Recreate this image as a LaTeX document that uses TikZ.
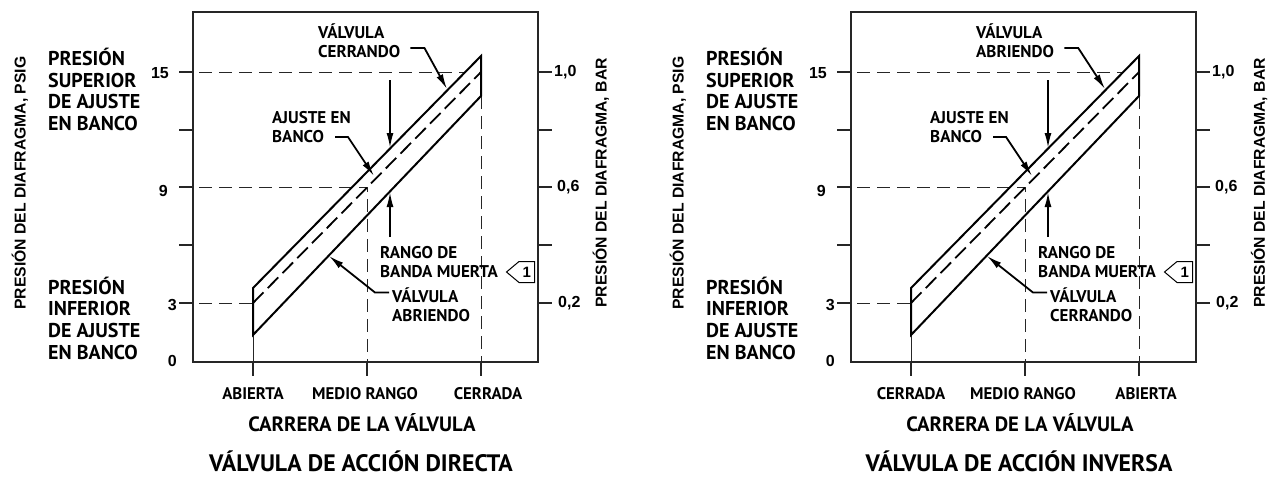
\documentclass[tikz,border=0pt]{standalone}
\usepackage{fontspec}
\setmainfont{PT Sans}
\newfontfamily\numfont{Liberation Sans}
\usetikzlibrary{arrows.meta, positioning, shapes.symbols}
\tikzstyle{plotframe} = [draw=black!85, line width=1.3pt]
\tikzstyle{tickmark} = [draw=black!85, line width=1.2pt]
\tikzstyle{guide} = [draw=black!85, line width=1pt, dash pattern=on 13pt off 7pt]
\tikzstyle{band} = [draw, line width=2pt, line join=miter]
\tikzstyle{setline} = [draw, line width=1.8pt, dash pattern=on 15pt off 6pt]
\tikzstyle{leader} = [draw, line width=1.8pt, -{Latex[length=15pt,width=7pt]}]
\tikzstyle{note} = [font=\bfseries\fontsize{17}{19}\selectfont, align=left, inner sep=0pt, anchor=west]
\tikzstyle{sidelabel} = [font=\bfseries\fontsize{20}{21.7}\selectfont, align=left, inner sep=0pt, anchor=west]
\tikzstyle{num} = [font=\numfont\bfseries\fontsize{16}{16}\selectfont, inner sep=0pt]
\tikzstyle{axtitle} = [font=\numfont\bfseries\fontsize{15.7}{15.7}\selectfont, rotate=90, inner sep=0pt]
\tikzstyle{cat} = [font=\bfseries\fontsize{16.8}{16.8}\selectfont, inner sep=0pt, anchor=base]
\tikzstyle{xtitle} = [font=\bfseries\fontsize{20.7}{20.7}\selectfont, inner sep=0pt, anchor=base]
\tikzstyle{ttl} = [font=\bfseries\fontsize{23.8}{23.8}\selectfont, inner sep=0pt, anchor=base]
\tikzstyle{calltag} = [draw, line width=1pt, shape=signal, signal to=west, signal pointer angle=80, font=\numfont\bfseries\fontsize{15}{15}\selectfont, minimum height=21pt, minimum width=28pt, inner sep=1.5pt]

\begin{document}
\begin{tikzpicture}[x=1pt, y=-1pt]
\useasboundingbox (0,0) rectangle (1270,477);
\foreach \sx/\pn/\topl/\botl/\catl/\catr/\ttlword in {0/a/CERRANDO/ABRIENDO/ABIERTA/CERRADA/DIRECTA, 658/b/ABRIENDO/CERRANDO/CERRADA/ABIERTA/INVERSA}{
\begin{scope}[xshift=\sx]
% frame, ticks and guide lines
\draw[plotframe] (193,12) rectangle (538,362);
\foreach \y in {72,130,187,245,303}{
  \draw[tickmark] (179,\y) -- (193,\y);
  \draw[tickmark] (538,\y) -- (552,\y);
}
\foreach \x in {253,367,481}
  \draw[tickmark] (\x,362) -- (\x,376);
\draw[guide] (179,72) -- (466,72);
\draw[guide] (179,187) -- (367,187) -- (367,362);
\draw[guide] (179,303) -- (253,303);
\draw[guide] (481,96) -- (481,362);
\draw[tickmark, line width=1pt] (253,335) -- (253,362);

% scale numbers
\node[num, anchor=east] (p15\pn) at (169,73) {15};
\node[num, anchor=east] (p9\pn) at (168,191) {9};
\node[num, anchor=east] (p3\pn) at (177,305) {3};
\node[num, anchor=east] (p0\pn) at (177,361) {0};
\node[num, anchor=west] (b10\pn) at (554,72) {1,0};
\node[num, anchor=west] (b06\pn) at (557,187) {0,6};
\node[num, anchor=west] (b02\pn) at (558,303) {0,2};
\node[axtitle] (yl\pn) at (20,183) {PRESIÓN DEL DIAFRAGMA, PSIG};
\node[axtitle] (yr\pn) at (601,183) {PRESIÓN DEL DIAFRAGMA, BAR};

% bench set band
\coordinate (lt\pn) at (253,288);
\coordinate (lb\pn) at (253,335);
\coordinate (lm\pn) at (253,303);
\coordinate (rt\pn) at (481,56);
\coordinate (rb\pn) at (481,96);
\coordinate (rm\pn) at (481,72);
\draw[band] (lb\pn) -- (lt\pn) -- (rt\pn) -- (rb\pn) -- cycle;
\draw[setline] (lm\pn) -- (rm\pn);

% labels
\node[sidelabel] (hi\pn) at (48,89.5) {PRESIÓN\\SUPERIOR\\DE AJUSTE\\EN BANCO};
\node[sidelabel] (lo\pn) at (48,318) {PRESIÓN\\INFERIOR\\DE AJUSTE\\EN BANCO};
\node[note] (vc\pn) at (318,41) {VÁLVULA\\\topl};
\node[note] (ab\pn) at (272,127.5) {AJUSTE EN\\BANCO};
\node[note] (dbr\pn) at (380,262) {RANGO DE\\BANDA MUERTA};
\node[calltag, anchor=east] (tg\pn) at (535,272) {1};
\node[note] (vo\pn) at (392,304.5) {VÁLVULA\\\botl};
\node[cat] (c1\pn) at (253,399) {\catl};
\node[cat] (c2\pn) at (365,399) {MEDIO RANGO};
\node[cat] (c3\pn) at (488,399) {\catr};
\node[xtitle] (xt\pn) at (362,431) {CARRERA DE LA VÁLVULA};
\node[ttl] (tt\pn) at (361,471) {VÁLVULA DE ACCIÓN \ttlword};

% leaders
\coordinate (vct\pn) at (447,89);
\coordinate (abt\pn) at (374,176);
\coordinate (vot\pn) at (329,256);
\coordinate (dus\pn) at (390,80);
\coordinate (dut\pn) at (390,148);
\coordinate (dls\pn) at (390,237);
\coordinate (dlt\pn) at (390,192);
\draw[leader] ([shift={(10,7)}]vc\pn.east) -- ++(14,0) -- (vct\pn);
\draw[leader] ([shift={(63,9.5)}]ab\pn.west) -- ++(13,0) -- (abt\pn);
\draw[leader] ([shift={(-3,-12)}]vo\pn.west) -- ++(-14,0) -- (vot\pn);
\draw[leader] (dus\pn) -- (dut\pn);
\draw[leader] (dls\pn) -- (dlt\pn);
\end{scope}}
\end{tikzpicture}
\end{document}
